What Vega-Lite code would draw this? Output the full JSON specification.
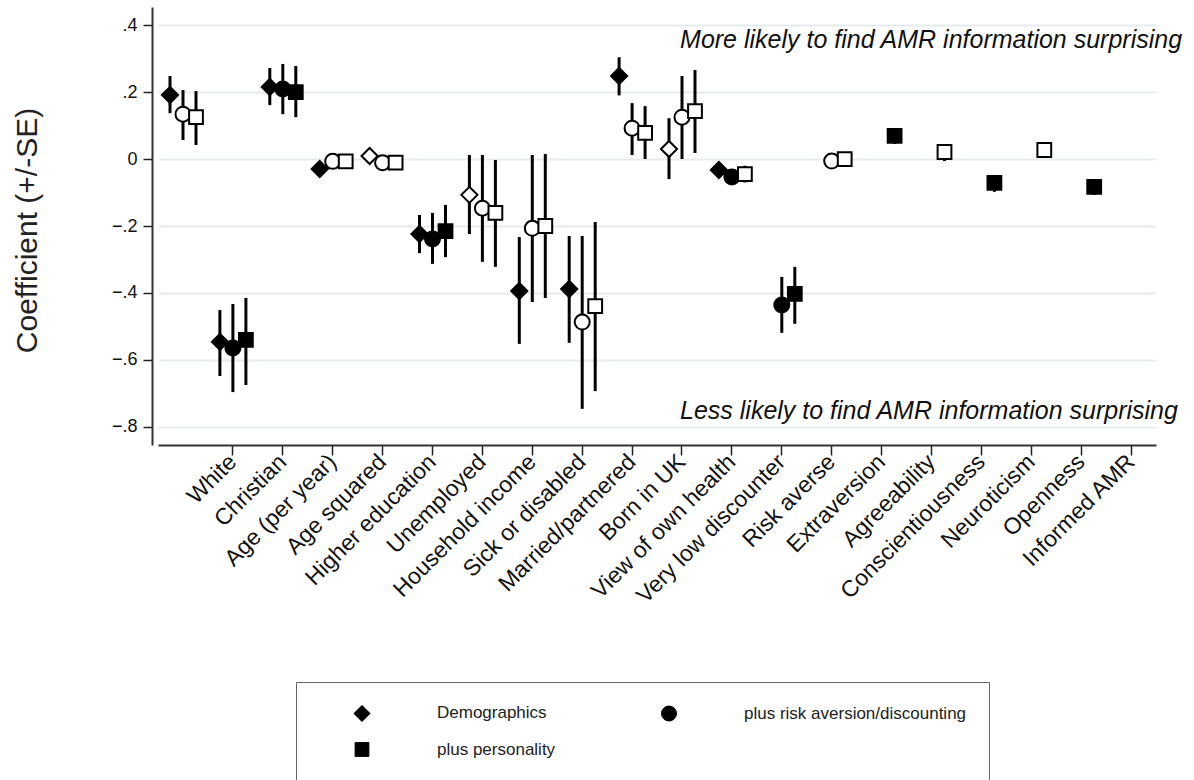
{
  "$schema": "https://vega.github.io/schema/vega-lite/v6.json",
  "width": 998,
  "height": 438,
  "autosize": {"type": "none"},
  "padding": {"left": 152, "top": 7, "right": 44, "bottom": 335},
  "background": "white",
  "config": {
    "view": {"stroke": null},
    "font": "Liberation Sans",
    "legend": {
      "orient": "none",
      "legendX": 144,
      "legendY": 675,
      "direction": "horizontal",
      "columns": 2,
      "strokeColor": "#666666",
      "padding": 22,
      "labelFontSize": 17,
      "labelFont": "Liberation Sans",
      "labelColor": "#222222",
      "labelLimit": 400,
      "symbolFillColor": "black",
      "symbolStrokeColor": "black",
      "symbolStrokeWidth": 1,
      "symbolOffset": 35,
      "labelOffset": 66,
      "columnPadding": 69,
      "rowPadding": 16,
      "title": null
    }
  },
  "datasets": {
    "coefs": [
      {"var": " ", "model": "Demographics", "coef": 0.191, "lo": 0.137, "hi": 0.248, "sig": "yes"},
      {"var": " ", "model": "plus risk aversion/discounting", "coef": 0.134, "lo": 0.057, "hi": 0.206, "sig": "no"},
      {"var": " ", "model": "plus personality", "coef": 0.125, "lo": 0.042, "hi": 0.203, "sig": "no"},
      {"var": "White", "model": "Demographics", "coef": -0.546, "lo": -0.648, "hi": -0.451, "sig": "yes"},
      {"var": "White", "model": "plus risk aversion/discounting", "coef": -0.564, "lo": -0.696, "hi": -0.433, "sig": "yes"},
      {"var": "White", "model": "plus personality", "coef": -0.54, "lo": -0.675, "hi": -0.415, "sig": "yes"},
      {"var": "Christian", "model": "Demographics", "coef": 0.215, "lo": 0.161, "hi": 0.272, "sig": "yes"},
      {"var": "Christian", "model": "plus risk aversion/discounting", "coef": 0.209, "lo": 0.134, "hi": 0.284, "sig": "yes"},
      {"var": "Christian", "model": "plus personality", "coef": 0.2, "lo": 0.125, "hi": 0.278, "sig": "yes"},
      {"var": "Age (per year)", "model": "Demographics", "coef": -0.03, "lo": -0.038, "hi": -0.022, "sig": "yes"},
      {"var": "Age (per year)", "model": "plus risk aversion/discounting", "coef": -0.007, "lo": -0.012, "hi": -0.002, "sig": "no"},
      {"var": "Age (per year)", "model": "plus personality", "coef": -0.007, "lo": -0.012, "hi": -0.002, "sig": "no"},
      {"var": "Age squared", "model": "Demographics", "coef": 0.009, "lo": 0.004, "hi": 0.014, "sig": "no"},
      {"var": "Age squared", "model": "plus risk aversion/discounting", "coef": -0.011, "lo": -0.015, "hi": -0.007, "sig": "no"},
      {"var": "Age squared", "model": "plus personality", "coef": -0.011, "lo": -0.015, "hi": -0.007, "sig": "no"},
      {"var": "Higher education", "model": "Demographics", "coef": -0.224, "lo": -0.281, "hi": -0.167, "sig": "yes"},
      {"var": "Higher education", "model": "plus risk aversion/discounting", "coef": -0.239, "lo": -0.313, "hi": -0.161, "sig": "yes"},
      {"var": "Higher education", "model": "plus personality", "coef": -0.215, "lo": -0.293, "hi": -0.137, "sig": "yes"},
      {"var": "Unemployed", "model": "Demographics", "coef": -0.107, "lo": -0.224, "hi": 0.012, "sig": "no"},
      {"var": "Unemployed", "model": "plus risk aversion/discounting", "coef": -0.147, "lo": -0.307, "hi": 0.012, "sig": "no"},
      {"var": "Unemployed", "model": "plus personality", "coef": -0.161, "lo": -0.322, "hi": -0.003, "sig": "no"},
      {"var": "Household income", "model": "Demographics", "coef": -0.394, "lo": -0.552, "hi": -0.233, "sig": "yes"},
      {"var": "Household income", "model": "plus risk aversion/discounting", "coef": -0.207, "lo": -0.427, "hi": 0.012, "sig": "no"},
      {"var": "Household income", "model": "plus personality", "coef": -0.2, "lo": -0.415, "hi": 0.015, "sig": "no"},
      {"var": "Sick or disabled", "model": "Demographics", "coef": -0.388, "lo": -0.549, "hi": -0.23, "sig": "yes"},
      {"var": "Sick or disabled", "model": "plus risk aversion/discounting", "coef": -0.487, "lo": -0.746, "hi": -0.23, "sig": "no"},
      {"var": "Sick or disabled", "model": "plus personality", "coef": -0.439, "lo": -0.693, "hi": -0.188, "sig": "no"},
      {"var": "Married/partnered", "model": "Demographics", "coef": 0.248, "lo": 0.19, "hi": 0.304, "sig": "yes"},
      {"var": "Married/partnered", "model": "plus risk aversion/discounting", "coef": 0.092, "lo": 0.012, "hi": 0.167, "sig": "no"},
      {"var": "Married/partnered", "model": "plus personality", "coef": 0.078, "lo": 0.0, "hi": 0.158, "sig": "no"},
      {"var": "Born in UK", "model": "Demographics", "coef": 0.03, "lo": -0.06, "hi": 0.122, "sig": "no"},
      {"var": "Born in UK", "model": "plus risk aversion/discounting", "coef": 0.125, "lo": 0.0, "hi": 0.248, "sig": "no"},
      {"var": "Born in UK", "model": "plus personality", "coef": 0.143, "lo": 0.018, "hi": 0.266, "sig": "no"},
      {"var": "View of own health", "model": "Demographics", "coef": -0.033, "lo": -0.043, "hi": -0.023, "sig": "yes"},
      {"var": "View of own health", "model": "plus risk aversion/discounting", "coef": -0.054, "lo": -0.066, "hi": -0.042, "sig": "yes"},
      {"var": "View of own health", "model": "plus personality", "coef": -0.045, "lo": -0.07, "hi": -0.02, "sig": "no"},
      {"var": "Very low discounter", "model": "plus risk aversion/discounting", "coef": -0.436, "lo": -0.519, "hi": -0.352, "sig": "yes"},
      {"var": "Very low discounter", "model": "plus personality", "coef": -0.403, "lo": -0.492, "hi": -0.322, "sig": "yes"},
      {"var": "Risk averse", "model": "plus risk aversion/discounting", "coef": -0.006, "lo": -0.01, "hi": -0.002, "sig": "no"},
      {"var": "Risk averse", "model": "plus personality", "coef": 0.0, "lo": -0.004, "hi": 0.004, "sig": "no"},
      {"var": "Extraversion", "model": "plus personality", "coef": 0.069, "lo": 0.045, "hi": 0.092, "sig": "yes"},
      {"var": "Agreeability", "model": "plus personality", "coef": 0.021, "lo": -0.006, "hi": 0.042, "sig": "no"},
      {"var": "Conscientiousness", "model": "plus personality", "coef": -0.071, "lo": -0.098, "hi": -0.048, "sig": "yes"},
      {"var": "Neuroticism", "model": "plus personality", "coef": 0.027, "lo": 0.006, "hi": 0.048, "sig": "no"},
      {"var": "Openness", "model": "plus personality", "coef": -0.083, "lo": -0.107, "hi": -0.06, "sig": "yes"}
    ],
    "notes": [
      {"note": "More likely to find AMR information surprising", "y": 0.331},
      {"note": "Less likely to find AMR information surprising", "y": -0.776}
    ]
  },
  "layer": [
    {
      "data": {"name": "coefs"},
      "mark": {"type": "rule", "color": "black", "strokeWidth": 3},
      "encoding": {
        "x": {
          "field": "var",
          "type": "nominal",
          "sort": null,
          "scale": {
            "type": "band",
            "domain": [" ", "White", "Christian", "Age (per year)", "Age squared", "Higher education", "Unemployed", "Household income", "Sick or disabled", "Married/partnered", "Born in UK", "View of own health", "Very low discounter", "Risk averse", "Extraversion", "Agreeability", "Conscientiousness", "Neuroticism", "Openness", "Informed AMR"],
            "range": [6, 1004],
            "paddingInner": 0,
            "paddingOuter": 0
          },
          "axis": {
            "title": null,
            "labelAngle": -45,
            "labelAlign": "right",
            "labelBaseline": "middle",
            "labelFontSize": 23,
            "labelColor": "#111111",
            "labelPadding": 3,
            "labelLimit": 400,
            "tickSize": 10,
            "tickWidth": 1.5,
            "tickColor": "#222222",
            "tickOpacity": {"condition": {"test": "datum.value === ' '", "value": 0}, "value": 1},
            "domainColor": "#333333",
            "domainWidth": 2,
            "grid": false
          }
        },
        "xOffset": {
          "field": "model",
          "type": "nominal",
          "scale": {"type": "point", "domain": ["Demographics", "plus risk aversion/discounting", "plus personality"], "range": [12, 38], "padding": 0}
        },
        "y": {
          "field": "lo",
          "type": "quantitative",
          "scale": {"domain": [-0.854, 0.454], "nice": false, "zero": false},
          "axis": {
            "title": "Coefficient (+/-SE)",
            "titleFontSize": 30,
            "titleFontWeight": "normal",
            "titleColor": "#222222",
            "titleX": -125,
            "titleY": 223,
            "titleBaseline": "middle",
            "values": [-0.8, -0.6, -0.4, -0.2, 0, 0.2, 0.4],
            "labelExpr": "datum.value == 0 ? '0' : replace(format(datum.value, '.1f'), '0.', '.')",
            "labelFontSize": 18,
            "labelColor": "#111111",
            "labelPadding": 6,
            "tickSize": 9,
            "tickWidth": 1.5,
            "tickColor": "#222222",
            "domainColor": "#333333",
            "domainWidth": 2,
            "grid": true,
            "gridColor": "#e4ecec",
            "gridWidth": 2
          }
        },
        "y2": {"field": "hi"}
      }
    },
    {
      "mark": {"type": "rule", "color": "black", "strokeWidth": 2.5},
      "encoding": {"y": {"datum": 0, "type": "quantitative"}}
    },
    {
      "data": {"name": "coefs"},
      "mark": {"type": "point", "filled": false, "opacity": 1, "stroke": "black", "strokeWidth": 2},
      "encoding": {
        "x": {"field": "var", "type": "nominal", "sort": null},
        "xOffset": {"field": "model", "type": "nominal"},
        "y": {"field": "coef", "type": "quantitative"},
        "shape": {
          "field": "model",
          "type": "nominal",
          "scale": {"domain": ["Demographics", "plus risk aversion/discounting", "plus personality"], "range": ["diamond", "circle", "square"]},
          "legend": {"values": ["Demographics", "plus risk aversion/discounting", "plus personality"], "direction": "horizontal"}
        },
        "size": {
          "field": "model",
          "type": "nominal",
          "scale": {"domain": ["Demographics", "plus risk aversion/discounting", "plus personality"], "range": [260, 190, 135]},
          "legend": {"values": ["Demographics", "plus risk aversion/discounting", "plus personality"], "direction": "horizontal"}
        },
        "fill": {
          "field": "sig",
          "type": "nominal",
          "scale": {"domain": ["yes", "no"], "range": ["black", "white"]},
          "legend": null
        }
      }
    },
    {
      "data": {"name": "notes"},
      "mark": {"type": "text", "align": "left", "baseline": "alphabetic", "fontSize": 25, "fontStyle": "italic", "color": "#111111", "dx": 48},
      "encoding": {
        "x": {"datum": "Married/partnered", "type": "nominal"},
        "y": {"field": "y", "type": "quantitative"},
        "text": {"field": "note"}
      }
    }
  ]
}
